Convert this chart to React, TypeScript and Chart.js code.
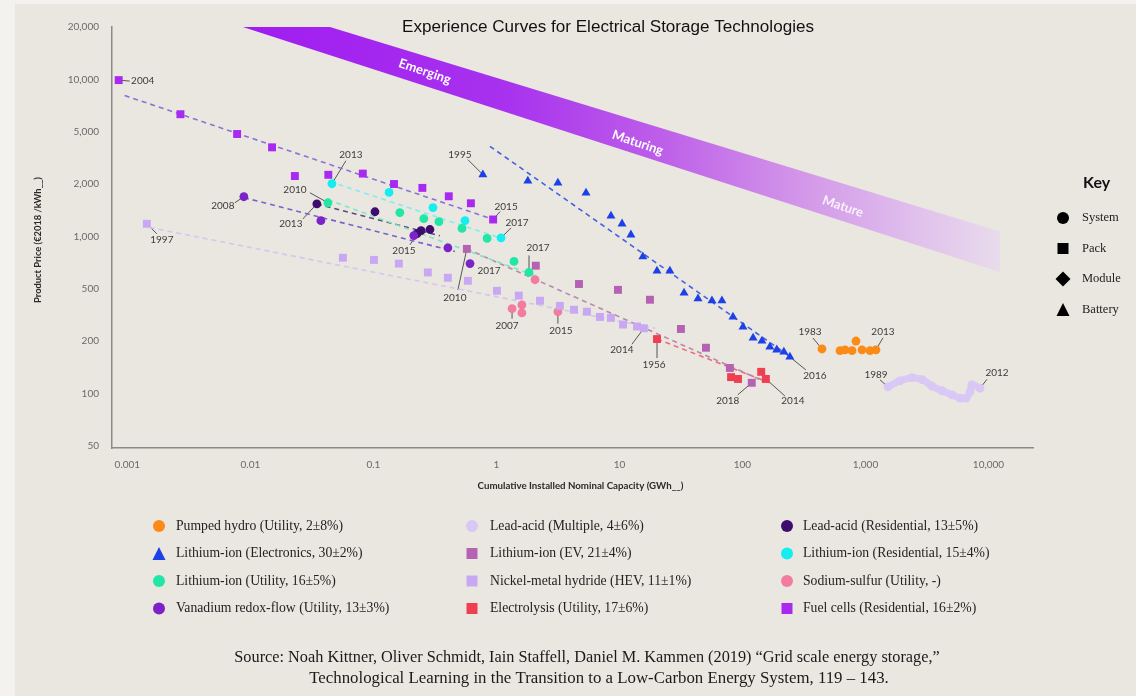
import React, { useEffect, useRef } from 'react';
import { Chart, registerables } from 'chart.js';

Chart.register(...registerables);

// ---------- axes ----------
const yTickValues = [50, 100, 200, 500, 1000, 2000, 5000, 10000, 20000];
const yTickLabels = ['50', '100', '200', '500', '1,000', '2,000', '5,000', '10,000', '20,000'];
const xTickValues = [0.001, 0.01, 0.1, 1, 10, 100, 1000, 10000];
const xTickLabels = ['0.001', '0.01', '0.1', '1', '10', '100', '1,000', '10,000'];

// ---------- series (capacity GWh, price €/kWh) ----------
const pumpedHydroX = [443, 621, 681, 777, 837, 937, 1089, 1217];
const pumpedHydroY = [180, 176, 178, 176, 200, 178, 176, 178];

const liElectronicsX = [0.776, 1.8, 3.16, 5.35, 8.53, 10.5, 12.4, 15.5, 20.2, 25.7, 33.5, 43.5, 56.5, 68.1, 83.7, 101, 122, 144, 167, 190, 217, 243];
const liElectronicsY = [2358, 2112, 2037, 1778, 1311, 1181, 1021, 763, 633, 633, 464, 420, 405, 405, 305, 256, 211, 200, 185, 178, 173, 162];
const liElectronicsFitX = [0.885, 252];
const liElectronicsFitY = [3870, 160];

const liUtilityX = [0.0427, 0.164, 0.257, 0.341, 0.525, 0.84, 1.39, 1.84];
const liUtilityY = [1560, 1370, 1265, 1215, 1110, 973, 717, 620];
const liUtilityFitX = [0.0427, 2.06];
const liUtilityFitY = [1625, 595];

const vanadiumX = [0.00885, 0.0374, 0.213, 0.403, 0.61];
const vanadiumY = [1690, 1230, 1010, 859, 697];
const vanadiumFitX = [0.00885, 0.46];
const vanadiumFitY = [1670, 818];

const leadAcidMultiX = [1524, 1905, 2388, 2877, 3474, 4190, 5050, 5865, 6560, 7080, 7340, 8530];
const leadAcidMultiY = [109, 118, 123, 120, 110, 103.5, 98, 94, 94, 102, 112, 107];

const liEVX = [0.575, 2.09, 4.69, 9.73, 17.7, 31.6, 50.5, 79, 119];
const liEVY = [847, 678, 532, 490, 412, 247, 183, 140, 115];
const liEVFitX = [0.575, 139];
const liEVFitY = [847, 120];

const nimhX = [0.00144, 0.0565, 0.101, 0.161, 0.277, 0.403, 0.586, 1.01, 1.52, 2.26, 3.28, 4.27, 5.44, 6.94, 8.53, 10.7, 13.9, 15.8];
const nimhY = [1181, 753, 732, 697, 620, 578, 555, 482, 443, 405, 370, 346, 334, 305, 300, 267, 258, 250];
const nimhFitX = [0.00152, 19.5];
const nimhFitY = [1125, 250];

const electrolysisX = [20.2, 80.8, 92, 142, 155];
const electrolysisY = [207, 124, 121, 133, 121];
const electrolysisFitX = [20.2, 167];
const electrolysisFitY = [207, 115];

const leadAcidResX = [0.0347, 0.103, 0.226, 0.244, 0.288];
const leadAcidResY = [1537, 1385, 1035, 1079, 1095];
const leadAcidResFitX = [0.0347, 0.347];
const leadAcidResFitY = [1537, 1007];

const liResX = [0.046, 0.134, 0.305, 0.555, 1.09];
const liResY = [2010, 1790, 1464, 1230, 980];
const liResFitX = [0.0443, 1.17];
const liResFitY = [2087, 959];

const sodiumSulfurX = [1.34, 1.61, 1.61, 2.06, 3.16];
const sodiumSulfurY = [352, 376, 327, 563, 334];

const fuelCellsX = [0.00085, 0.0027, 0.0078, 0.015, 0.023, 0.043, 0.082, 0.147, 0.25, 0.41, 0.62, 0.94];
const fuelCellsY = [9900, 6300, 4800, 3800, 2300, 2350, 2400, 2000, 1900, 1700, 1550, 1250];
const fuelCellsFitX = [0.00095, 1.07];
const fuelCellsFitY = [8070, 1214];

// maturity band (capacity, price) corners
const bandX = [0.00869, 0.0443, 12380, 12380];
const bandY = [20000, 20000, 1065, 624];
const bandLabels = ['Emerging', 'Maturing', 'Mature'];
const bandLabelX = [0.262, 14.1, 656];
const bandLabelY = [11100, 4120, 1484];

// year annotations: series key, point index, text
const yearNotes = [
  { s: 'fuel', i: 0, t: '2004', dx: 24, dy: 1, lx: 11, ly: 1 },
  { s: 'nimh', i: 0, t: '1997', dx: 15, dy: 16, lx: 10, ly: 10 },
  { s: 'vanadium', i: 0, t: '2008', dx: -21, dy: 9, lx: -9, ly: 6 },
  { s: 'liRes', i: 0, t: '2013', dx: 19, dy: -29, lx: 14, ly: -23 },
  { s: 'liUtil', i: 0, t: '2010', dx: -33, dy: -13, lx: -18, ly: -10 },
  { s: 'laRes', i: 0, t: '2013', dx: -26, dy: 20, lx: -14, ly: 15 },
  { s: 'laRes', i: 2, t: '2015', dx: -13, dy: 17, lx: -7, ly: 11 },
  { s: 'liEV', i: 0, t: '2010', dx: -12, dy: 49, lx: -9, ly: 41 },
  { s: 'vanadium', i: 4, t: '2017', dx: 19, dy: 7, lx: 0, ly: 0 },
  { s: 'fuel', i: 11, t: '2015', dx: 13, dy: -13, lx: 7, ly: -8 },
  { s: 'liRes', i: 4, t: '2017', dx: 16, dy: -15, lx: 10, ly: -10 },
  { s: 'liUtil', i: 7, t: '2017', dx: 9, dy: -25, lx: 0, ly: -17 },
  { s: 'nas', i: 0, t: '2007', dx: -5, dy: 17, lx: 0, ly: 10 },
  { s: 'nas', i: 4, t: '2015', dx: 3, dy: 19, lx: 0, ly: 12 },
  { s: 'nimh', i: 17, t: '2014', dx: -22, dy: 22, lx: -12, ly: 16 },
  { s: 'electrolysis', i: 0, t: '1956', dx: -3, dy: 26, lx: 0, ly: 19 },
  { s: 'liEV', i: 8, t: '2018', dx: -24, dy: 18, lx: -14, ly: 12 },
  { s: 'electrolysis', i: 4, t: '2014', dx: 27, dy: 22, lx: 19, ly: 17 },
  { s: 'liElec', i: 0, t: '1995', dx: -23, dy: -20, lx: -15, ly: -15 },
  { s: 'liElec', i: 21, t: '2016', dx: 25, dy: 19, lx: 16, ly: 13 },
  { s: 'pumped', i: 0, t: '1983', dx: -12, dy: -17, lx: -9, ly: -11 },
  { s: 'pumped', i: 7, t: '2013', dx: 7, dy: -18, lx: 7, ly: -12 },
  { s: 'laMulti', i: 0, t: '1989', dx: -12, dy: -12, lx: -8, ly: -7 },
  { s: 'laMulti', i: 11, t: '2012', dx: 17, dy: -15, lx: 7, ly: -9 },
];

const keyLabels = ['System', 'Pack', 'Module', 'Battery'];
const keyShapes = ['circle', 'rect', 'diamond', 'triangle'];

const titleText = 'Experience Curves for Electrical Storage Technologies';
const xTitle = 'Cumulative Installed Nominal Capacity (GWh__)';
const yTitle = 'Product Price (€2018 /kWh__)';
const sourceLine1 = 'Source: Noah Kittner, Oliver Schmidt, Iain Staffell, Daniel M. Kammen (2019) \u201CGrid scale energy storage,\u201D';
const sourceLine2 = 'Technological Learning in the Transition to a Low-Carbon Energy System, 119 \u2013 143.';

type Shape = 'circle' | 'rect' | 'triangle';
interface Series {
  key: string; label: string; color: string; shape: Shape;
  xs: number[]; ys: number[];
  fitX?: number[]; fitY?: number[]; fitColor?: string; joined?: boolean;
}

const series: Series[] = [
  { key: 'pumped', label: 'Pumped hydro (Utility, 2\u00B18%)', color: '#fb8a16', shape: 'circle', xs: pumpedHydroX, ys: pumpedHydroY },
  { key: 'liElec', label: 'Lithium-ion (Electronics, 30\u00B12%)', color: '#1e40e8', shape: 'triangle', xs: liElectronicsX, ys: liElectronicsY, fitX: liElectronicsFitX, fitY: liElectronicsFitY, fitColor: '#4660e0' },
  { key: 'liUtil', label: 'Lithium-ion (Utility, 16\u00B15%)', color: '#22e6a6', shape: 'circle', xs: liUtilityX, ys: liUtilityY, fitX: liUtilityFitX, fitY: liUtilityFitY, fitColor: '#7ee8c4' },
  { key: 'vanadium', label: 'Vanadium redox-flow (Utility, 13\u00B13%)', color: '#7d22c8', shape: 'circle', xs: vanadiumX, ys: vanadiumY, fitX: vanadiumFitX, fitY: vanadiumFitY, fitColor: '#7a62cc' },
  { key: 'laMulti', label: 'Lead-acid (Multiple, 4\u00B16%)', color: '#d9c8f6', shape: 'circle', xs: leadAcidMultiX, ys: leadAcidMultiY, joined: true },
  { key: 'liEV', label: 'Lithium-ion (EV, 21\u00B14%)', color: '#b562b3', shape: 'rect', xs: liEVX, ys: liEVY, fitX: liEVFitX, fitY: liEVFitY, fitColor: '#b58ab0' },
  { key: 'nimh', label: 'Nickel-metal hydride (HEV, 11\u00B11%)', color: '#c8a8f2', shape: 'rect', xs: nimhX, ys: nimhY, fitX: nimhFitX, fitY: nimhFitY, fitColor: '#d4c6ee' },
  { key: 'electrolysis', label: 'Electrolysis (Utility, 17\u00B16%)', color: '#f03e52', shape: 'rect', xs: electrolysisX, ys: electrolysisY, fitX: electrolysisFitX, fitY: electrolysisFitY, fitColor: '#ee6a78' },
  { key: 'laRes', label: 'Lead-acid (Residential, 13\u00B15%)', color: '#3e0b6e', shape: 'circle', xs: leadAcidResX, ys: leadAcidResY, fitX: leadAcidResFitX, fitY: leadAcidResFitY, fitColor: '#5c4a80' },
  { key: 'liRes', label: 'Lithium-ion (Residential, 15\u00B14%)', color: '#14eef0', shape: 'circle', xs: liResX, ys: liResY, fitX: liResFitX, fitY: liResFitY, fitColor: '#80eef0' },
  { key: 'nas', label: 'Sodium-sulfur (Utility, -)', color: '#f27ca0', shape: 'circle', xs: sodiumSulfurX, ys: sodiumSulfurY },
  { key: 'fuel', label: 'Fuel cells (Residential, 16\u00B12%)', color: '#a82af0', shape: 'rect', xs: fuelCellsX, ys: fuelCellsY, fitX: fuelCellsFitX, fitY: fuelCellsFitY, fitColor: '#8a72d6' },
];

function priceToPos(p: number): number {
  const t = yTickValues;
  if (p <= t[0]) return Math.log(p / t[0]) / Math.log(t[1] / t[0]);
  for (let i = 0; i < t.length - 1; i++) {
    if (p <= t[i + 1]) return i + Math.log(p / t[i]) / Math.log(t[i + 1] / t[i]);
  }
  const n = t.length - 1;
  return n + Math.log(p / t[n]) / Math.log(t[n] / t[n - 1]);
}

const zip = (xs: number[], ys: number[]) => xs.map((x, i) => ({ x, y: priceToPos(ys[i]) }));

function drawShape(ctx: CanvasRenderingContext2D, shape: string, x: number, y: number, s: number, color: string) {
  ctx.fillStyle = color;
  ctx.beginPath();
  if (shape === 'circle') {
    ctx.arc(x, y, s / 2, 0, Math.PI * 2);
  } else if (shape === 'rect') {
    ctx.rect(x - s / 2, y - s / 2, s, s);
  } else if (shape === 'diamond') {
    ctx.moveTo(x, y - s / 2); ctx.lineTo(x + s / 2, y); ctx.lineTo(x, y + s / 2); ctx.lineTo(x - s / 2, y); ctx.closePath();
  } else {
    ctx.moveTo(x, y - s / 2); ctx.lineTo(x + s / 2, y + s / 2); ctx.lineTo(x - s / 2, y + s / 2); ctx.closePath();
  }
  ctx.fill();
}

function fitText(ctx: CanvasRenderingContext2D, text: string, family: string, weight: string, width: number) {
  ctx.font = `${weight} 20px ${family}`;
  const w = ctx.measureText(text).width;
  const size = 20 * width / w;
  ctx.font = `${weight} ${size.toFixed(2)}px ${family}`;
}

const decorPlugin = {
  id: 'decor',
  beforeDraw(chart: any) {
    const ctx = chart.ctx as CanvasRenderingContext2D;
    ctx.save();
    ctx.fillStyle = '#f3f2ee';
    ctx.fillRect(0, 0, 15, chart.height);
    ctx.fillRect(0, 0, chart.width, 4);
    ctx.restore();
  },
  beforeDatasetsDraw(chart: any) {
    const ctx = chart.ctx as CanvasRenderingContext2D;
    const sx = chart.scales.x, sy = chart.scales.y;
    const pts = bandX.map((x, i) => [sx.getPixelForValue(x), sy.getPixelForValue(priceToPos(bandY[i]))]);
    ctx.save();
    const g = ctx.createLinearGradient(pts[0][0], 0, pts[2][0], 0);
    g.addColorStop(0, '#a01cf0');
    g.addColorStop(0.35, '#a832ee');
    g.addColorStop(0.55, '#bd5ee9');
    g.addColorStop(0.75, '#d49ae9');
    g.addColorStop(0.9, '#e1c3ec');
    g.addColorStop(1, '#e8dbec');
    ctx.fillStyle = g;
    ctx.beginPath();
    ctx.moveTo(pts[0][0], pts[0][1]);
    ctx.lineTo(pts[1][0], pts[1][1]);
    ctx.lineTo(pts[2][0], pts[2][1]);
    ctx.lineTo(pts[3][0], pts[3][1]);
    ctx.closePath();
    ctx.fill();
    const ang = Math.atan2(pts[2][1] - pts[1][1], pts[2][0] - pts[1][0]) + 0.03;
    ctx.fillStyle = '#ffffff';
    ctx.font = 'bold 13px Lato';
    ctx.textAlign = 'center';
    ctx.textBaseline = 'middle';
    bandLabels.forEach((t, i) => {
      const px = sx.getPixelForValue(bandLabelX[i]);
      const py = sy.getPixelForValue(priceToPos(bandLabelY[i]));
      ctx.save();
      ctx.translate(px, py);
      ctx.rotate(ang);
      ctx.globalAlpha = i === 2 ? 0.85 : 1;
      ctx.fillText(t, 0, 0);
      ctx.restore();
    });
    // leader lines
    ctx.strokeStyle = '#555';
    ctx.lineWidth = 1;
    yearNotes.forEach((n) => {
      if (!n.lx && !n.ly) return;
      const s = series.find((q) => q.key === n.s)!;
      const px = sx.getPixelForValue(s.xs[n.i]);
      const py = sy.getPixelForValue(priceToPos(s.ys[n.i]));
      ctx.beginPath();
      ctx.moveTo(px, py);
      ctx.lineTo(px + n.lx, py + n.ly);
      ctx.stroke();
    });
    ctx.restore();
  },
  afterDatasetsDraw(chart: any) {
    const ctx = chart.ctx as CanvasRenderingContext2D;
    const sx = chart.scales.x, sy = chart.scales.y;
    ctx.save();
    ctx.font = '10px Lato';
    ctx.fillStyle = '#3c3c3c';
    ctx.textAlign = 'center';
    ctx.textBaseline = 'middle';
    yearNotes.forEach((n) => {
      const s = series.find((q) => q.key === n.s)!;
      const px = sx.getPixelForValue(s.xs[n.i]);
      const py = sy.getPixelForValue(priceToPos(s.ys[n.i]));
      ctx.fillText(n.t, px + n.dx, py + n.dy);
    });
    ctx.restore();
  },
  afterDraw(chart: any) {
    const ctx = chart.ctx as CanvasRenderingContext2D;
    const area = chart.chartArea;
    ctx.save();
    ctx.textBaseline = 'middle';
    // title
    ctx.fillStyle = '#111';
    ctx.textAlign = 'center';
    fitText(ctx, titleText, '"Liberation Sans", sans-serif', 'normal', 412);
    ctx.fillText(titleText, 608, 27);
    // axis titles
    ctx.fillStyle = '#2a2a2a';
    fitText(ctx, xTitle, 'Lato', 'bold', 206);
    ctx.fillText(xTitle, (area.left + area.right) / 2 + 8, 486);
    ctx.save();
    ctx.translate(38, 240);
    ctx.rotate(-Math.PI / 2);
    fitText(ctx, yTitle, 'Lato', 'bold', 126);
    ctx.fillText(yTitle, 0, 0);
    ctx.restore();
    // key
    ctx.textAlign = 'left';
    ctx.fillStyle = '#111';
    ctx.font = 'bold 16px Lato';
    ctx.fillText('Key', 1083, 183);
    const keySizes = [12, 11, 15, 13];
    keyLabels.forEach((k, i) => {
      const y = 218 + i * 30.5;
      drawShape(ctx, keyShapes[i], 1063, y, keySizes[i], '#000');
      ctx.fillStyle = '#222';
      ctx.font = '12.5px "Liberation Serif", serif';
      ctx.fillText(k, 1082, y);
    });
    // legend
    const colSym = [159, 472, 787];
    const colText = [176, 490, 803];
    series.forEach((s, idx) => {
      const c = Math.floor(idx / 4), r = idx % 4;
      const y = 526 + r * 27.5;
      const shape = s.shape;
      const size = shape === 'triangle' ? 13 : shape === 'rect' ? 11 : 12;
      drawShape(ctx, shape, colSym[c], y, size, s.color);
      ctx.fillStyle = '#222';
      ctx.font = '13.7px "Liberation Serif", serif';
      ctx.fillText(s.label, colText[c], y);
    });
    // source
    ctx.textAlign = 'center';
    ctx.fillStyle = '#1a1a1a';
    fitText(ctx, sourceLine1, '"Liberation Serif", serif', 'normal', 706);
    ctx.fillText(sourceLine1, 587, 658);
    fitText(ctx, sourceLine2, '"Liberation Serif", serif', 'normal', 580);
    ctx.fillText(sourceLine2, 599, 679);
    ctx.restore();
  },
};

export default function App() {
  const ref = useRef<HTMLCanvasElement>(null);
  useEffect(() => {
    const canvas = ref.current!;
    const datasets: any[] = [];
    series.forEach((s) => {
      if (s.fitX && s.fitY) {
        datasets.push({
          label: s.label + ' fit',
          data: zip(s.fitX, s.fitY),
          showLine: true,
          borderColor: s.fitColor,
          borderWidth: 1.6,
          borderDash: [5, 4],
          pointRadius: 0,
          fill: false,
          order: 10,
        });
      }
      const r = s.shape === 'rect' ? 5.6 : s.shape === 'triangle' ? 5.2 : 4.4;
      datasets.push({
        label: s.label,
        data: zip(s.xs, s.ys),
        pointStyle: s.shape,
        pointRadius: r,
        pointBackgroundColor: s.color,
        pointBorderWidth: 0,
        borderColor: s.joined ? 'rgba(214,198,246,0.9)' : s.color,
        backgroundColor: s.color,
        borderWidth: s.joined ? 7 : 0,
        showLine: !!s.joined,
        tension: 0.4,
        order: s.joined ? 5 : 1,
      });
    });

    const chart = new Chart(canvas, {
      type: 'scatter',
      data: { datasets },
      plugins: [decorPlugin],
      options: {
        animation: false,
        responsive: false,
        devicePixelRatio: 1,
        layout: { padding: { left: 0, top: 27, right: 103, bottom: 218 } },
        plugins: { legend: { display: false }, tooltip: { enabled: false }, title: { display: false } },
        scales: {
          x: {
            type: 'logarithmic',
            min: 0.00075,
            max: 23000,
            afterFit: (scale: any) => { scale.height = 30; },
            afterBuildTicks: (scale: any) => { scale.ticks = xTickValues.map((v) => ({ value: v })); },
            grid: { display: false, drawTicks: false },
            border: { display: true, color: '#8a8a86', width: 1.5 },
            ticks: {
              autoSkip: false,
              maxRotation: 0,
              padding: 11,
              color: '#6a6a6a',
              font: { family: 'Lato', size: 10 },
              callback: (_v: any, i: number) => xTickLabels[i],
            },
          },
          y: {
            type: 'linear',
            min: -0.044,
            max: 8,
            afterFit: (scale: any) => { scale.width = 112; },
            afterBuildTicks: (scale: any) => { scale.ticks = yTickValues.map((_v, i) => ({ value: i })); },
            grid: { display: false, drawTicks: false },
            border: { display: true, color: '#8a8a86', width: 1.5 },
            ticks: {
              autoSkip: false,
              padding: 13,
              color: '#6a6a6a',
              font: { family: 'Lato', size: 10 },
              callback: (_v: any, i: number) => yTickLabels[i],
            },
          },
        },
      } as any,
    });
    return () => chart.destroy();
  }, []);

  return (
    <div style={{ position: 'absolute', left: 0, top: 0, width: 1136, height: 696, background: '#e9e7e0', overflow: 'hidden' }}>
      <canvas ref={ref} width={1136} height={696} style={{ display: 'block', width: 1136, height: 696 }} />
    </div>
  );
}
